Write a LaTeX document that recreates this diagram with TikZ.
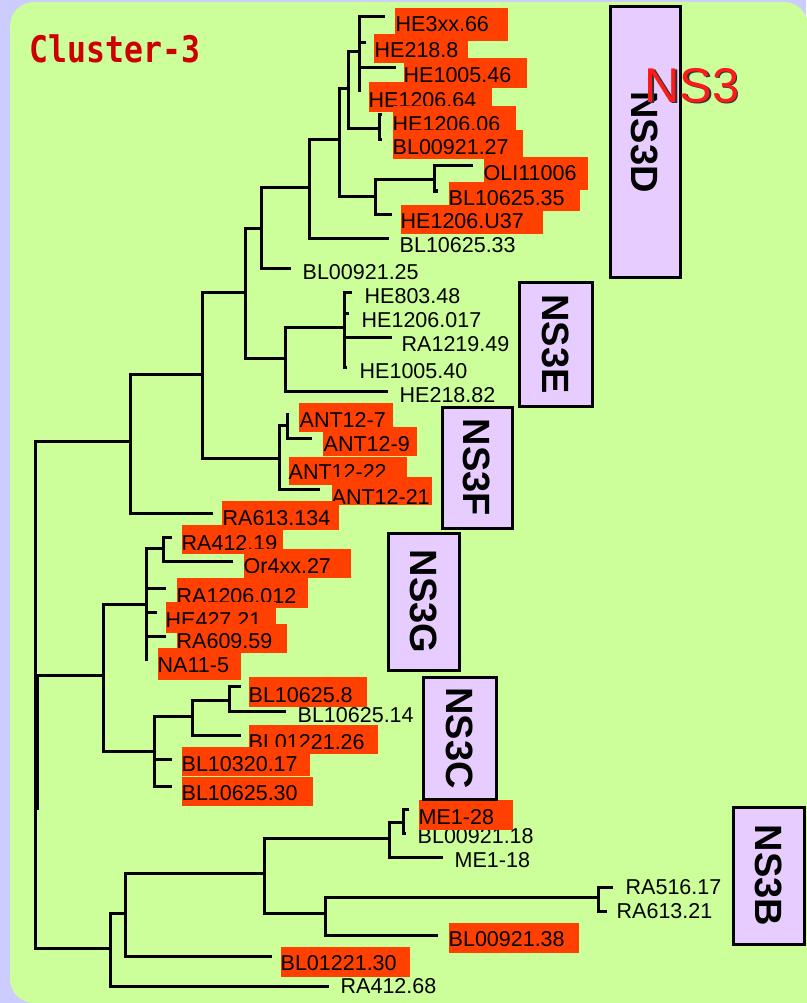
\documentclass[tikz,border=0pt]{standalone}
\usepackage{fontspec}
\setmainfont{Liberation Sans}
\newfontfamily\clusterfont{DejaVu Sans Mono}
\definecolor{panel}{HTML}{CCFF99}
\definecolor{outer}{HTML}{CCCCFF}
\definecolor{hilite}{HTML}{FF4000}
\definecolor{groupfill}{HTML}{E6CCFF}
\definecolor{titlered}{HTML}{CC0000}
\definecolor{nsred}{HTML}{FF1A1A}
% highlighted tip label: name, box corners, text position, text
\newcommand\hlabel[8]{%
  \fill[hilite] (#2,#3) rectangle (#4,#5);
  \node[lab] (#1) at (#6,#7) {#8};}
\begin{document}
\begin{tikzpicture}[x=1pt,y=-1pt,
  treeline/.style={draw=black,line width=3pt},
  lab/.style={anchor=base west,inner sep=0pt,xshift=-1.5pt,
    font=\fontsize{21.5}{24}\selectfont},
  grp/.style={draw=black,line width=3pt,fill=groupfill,rotate=-90,
    inner sep=0pt,font=\bfseries\fontsize{38}{40}\selectfont}]
\useasboundingbox (0,0) rectangle (806,1003);
% background
\fill[outer] (0,0) rectangle (806,1003);
\fill[panel,rounded corners=24pt] (10,2) rectangle (808,1003);
\fill[panel] (40,200) rectangle (808,1003);

% title
\node[anchor=base west,inner sep=0pt,text=titlered,xscale=0.86,
  font=\clusterfont\bfseries\fontsize{36.6}{40}\selectfont] (title) at (29.5,63) {Cluster-3};

% internal nodes of the tree
\coordinate (root) at (35,675);
\coordinate (a1) at (130,441);
\coordinate (a2) at (202,374);
\coordinate (a3) at (245,292);
\coordinate (a4) at (261,228);
\coordinate (a5) at (309,188);
\coordinate (a6) at (339,140);
\coordinate (a7) at (348,89);
\coordinate (a8) at (375,196);
\coordinate (a9) at (359,52);
\coordinate (a10) at (379,129);
\coordinate (a11) at (434,180);
\coordinate (ae) at (285,358);
\coordinate (ae2) at (344,327);
\coordinate (aant) at (279,458);
\coordinate (aant2) at (287,425);
\coordinate (g1) at (103,675);
\coordinate (g2) at (146,604);
\coordinate (g4) at (163,548);
\coordinate (g3) at (154,751);
\coordinate (g5) at (192,716);
\coordinate (g6) at (229,700);
\coordinate (b1) at (110,948);
\coordinate (b2) at (125,913);
\coordinate (b3) at (264,873);
\coordinate (b4) at (389,838);
\coordinate (b6) at (403,822);
\coordinate (b5) at (325,913);
\coordinate (b7) at (598,897);
\coordinate (rootx) at (37,810);

% tips
\coordinate (tHE3xx) at (385,17);
\coordinate (tHE2188) at (366,43);
\coordinate (tHE100546) at (396,68);
\coordinate (tHE120664) at (359,92);
\coordinate (tHE120606) at (382,115);
\coordinate (tBL0092127) at (382,140);
\coordinate (tOLI) at (473,166);
\coordinate (tBL1062535) at (438,191);
\coordinate (tHE1206U37) at (392,214);
\coordinate (tBL1062533) at (389,238);
\coordinate (tBL0092125) at (291,268);
\coordinate (tHE80348) at (352,292);
\coordinate (tHE1206017) at (349,313);
\coordinate (tRA121949) at (392,337);
\coordinate (tHE100540) at (347,367);
\coordinate (tHE21882) at (388,391);
\coordinate (tANT127) at (287,413);
\coordinate (tANT129) at (312,438);
\coordinate (tANT1221) at (320,489);
\coordinate (tRA613134) at (213,513);
\coordinate (tRA41219) at (172,537);
\coordinate (tOr4xx27) at (233,561);
\coordinate (tRA1206012) at (166,588);
\coordinate (tHE42721) at (157,612);
\coordinate (tRA60959) at (166,636);
\coordinate (tNA115) at (146,661);
\coordinate (tBL106258) at (241,686);
\coordinate (tBL1062514) at (286,711);
\coordinate (tBL0122126) at (241,735);
\coordinate (tBL1032017) at (172,759);
\coordinate (tBL1062530) at (172,786);
\coordinate (tME128) at (409,809);
\coordinate (tBL0092118) at (406,833);
\coordinate (tME118) at (443,857);
\coordinate (tRA51617) at (613,887);
\coordinate (tRA61321) at (607,911);
\coordinate (tBL0092138) at (438,935);
\coordinate (tBL0122130) at (272,956);
\coordinate (tRA41268) at (329,986);

% branches
\foreach \p/\c in {root/a1,root/g1,root/b1,
  a1/a2,a1/tRA613134,a2/a3,a2/aant,a3/a4,a3/ae,a4/a5,a4/tBL0092125,
  a5/a6,a5/tBL1062533,a6/a7,a6/a8,a7/a9,a7/a10,
  a9/tHE3xx,a9/tHE2188,a9/tHE100546,a9/tHE120664,
  a10/tHE120606,a10/tBL0092127,a8/a11,a8/tHE1206U37,
  a11/tOLI,a11/tBL1062535,
  ae/ae2,ae/tHE21882,ae2/tHE80348,ae2/tHE1206017,ae2/tRA121949,ae2/tHE100540,
  aant/aant2,aant/tANT1221,aant2/tANT127,aant2/tANT129,
  g1/g2,g1/g3,g2/g4,g2/tRA1206012,g2/tHE42721,g2/tRA60959,g2/tNA115,
  g4/tRA41219,g4/tOr4xx27,g3/g5,g3/tBL1032017,g3/tBL1062530,
  g5/g6,g5/tBL0122126,g6/tBL106258,g6/tBL1062514,
  b1/b2,b1/tRA41268,b2/b3,b2/tBL0122130,b3/b4,b3/b5,
  b4/b6,b4/tME118,b6/tME128,b6/tBL0092118,
  b5/b7,b5/tBL0092138,b7/tRA51617,b7/tRA61321}
  {\path[treeline] (\p) |- (\c);}
\path[treeline] ([xshift=2pt]root) -- (rootx);

% plain tip labels
\node[lab] (lBL1062533) at (401,252) {BL10625.33};
\node[lab] (lBL0092125) at (304,279) {BL00921.25};
\node[lab] (lHE80348) at (366,303) {HE803.48};
\node[lab] (lHE1206017) at (363,327) {HE1206.017};
\node[lab] (lRA121949) at (403,351) {RA1219.49};
\node[lab] (lHE100540) at (361,378) {HE1005.40};
\node[lab] (lHE21882) at (401,402) {HE218.82};
\node[lab] (lBL1062514) at (299,722) {BL10625.14};
\node[lab] (lBL0092118) at (419,843) {BL00921.18};
\node[lab] (lME118) at (456,867) {ME1-18};
\node[lab] (lRA51617) at (627,894) {RA516.17};
\node[lab] (lRA61321) at (618,918) {RA613.21};
\node[lab] (lRA41268) at (342,993) {RA412.68};

% highlighted tip labels
\hlabel{lHE3xx}{395}{8}{508}{41}{397}{32}{HE3xx.66}
\hlabel{lHE2188}{374}{34}{468}{63}{376}{58}{HE218.8}
\hlabel{lHE100546}{404}{58}{527}{88}{405}{83}{HE1005.46}
\hlabel{lHE120664}{369}{82}{492}{112}{370}{108}{HE1206.64}
\hlabel{lHE120606}{393}{106}{516}{131}{394}{132}{HE1206.06}
\hlabel{lBL0092127}{393}{130}{523}{159}{394}{155}{BL00921.27}
\hlabel{lOLI}{484}{157}{588}{190}{485}{181}{OLI11006}
\hlabel{lBL1062535}{449}{182}{580}{211}{450}{205}{BL10625.35}
\hlabel{lHE1206U37}{401}{205}{543}{234}{402}{228}{HE1206.U37}
\hlabel{lANT127}{299}{403}{393}{432}{301}{427}{ANT12-7}
\hlabel{lANT129}{323}{427}{417}{456}{325}{451}{ANT12-9}
\hlabel{lANT1222}{289}{457}{407}{485}{290}{479}{ANT12-22}
\hlabel{lANT1221}{332}{477}{432}{505}{333}{504}{ANT12-21}
\hlabel{lRA613134}{222}{501}{339}{530}{224}{525}{RA613.134}
\hlabel{lRA41219}{182}{525}{283}{554}{183}{550}{RA412.19}
\hlabel{lOr4xx27}{244}{549}{351}{578}{245}{573}{Or4xx.27}
\hlabel{lRA1206012}{177}{578}{308}{608}{178}{603}{RA1206.012}
\hlabel{lHE42721}{166}{602}{276}{633}{167}{627}{HE427.21}
\hlabel{lRA60959}{177}{624}{287}{653}{178}{648}{RA609.59}
\hlabel{lNA115}{158}{648}{241}{680}{159}{672}{NA11-5}
\hlabel{lBL106258}{249}{677}{367}{707}{250}{702}{BL10625.8}
\hlabel{lBL0122126}{249}{725}{378}{754}{250}{749}{BL01221.26}
\hlabel{lBL1032017}{182}{747}{310}{776}{183}{771}{BL10320.17}
\hlabel{lBL1062530}{182}{777}{313}{806}{183}{800}{BL10625.30}
\hlabel{lME128}{419}{800}{513}{830}{420}{824}{ME1-28}
\hlabel{lBL0092138}{449}{923}{579}{953}{450}{946}{BL00921.38}
\hlabel{lBL0122130}{281}{947}{410}{977}{282}{970}{BL01221.30}

% group boxes
\node[grp,minimum width=270pt,minimum height=70pt] (ns3d) at (645,142) {NS3D};
\node[grp,minimum width=124pt,minimum height=73pt] (ns3e) at (555.5,344) {NS3E};
\node[grp,minimum width=121pt,minimum height=70pt] (ns3f) at (477,467.5) {NS3F};
\node[grp,minimum width=137pt,minimum height=71pt] (ns3g) at (423.5,601.5) {NS3G};
\node[grp,minimum width=122pt,minimum height=73pt] (ns3c) at (459.5,738) {NS3C};
\node[grp,minimum width=137pt,minimum height=71pt] (ns3b) at (768.5,875.5) {NS3B};

% clade name with drop shadow
\node[anchor=base west,inner sep=0pt,text=black!80,
  font=\fontsize{48.8}{52}\selectfont] (ns3shadow) at (646,104) {NS3};
\node[anchor=base west,inner sep=0pt,text=nsred,
  font=\fontsize{48.8}{52}\selectfont] (ns3) at (644.5,102.5) {NS3};
\end{tikzpicture}
\end{document}
